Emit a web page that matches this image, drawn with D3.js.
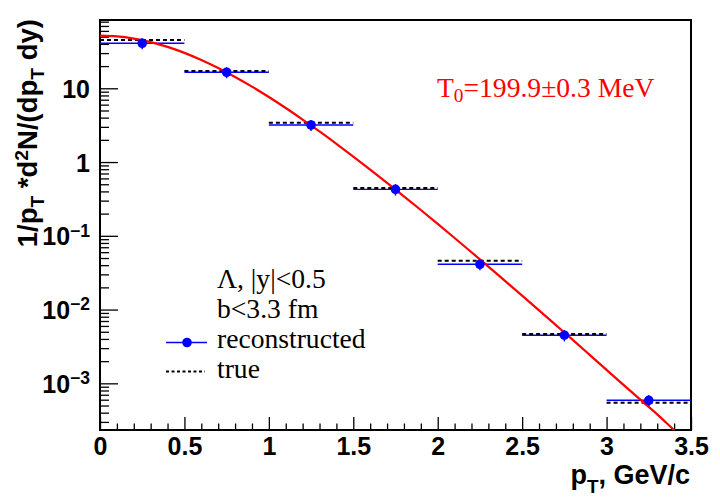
<!DOCTYPE html>
<html>
<head>
<meta charset="utf-8">
<script src="https://cdn.jsdelivr.net/npm/d3@7"></script>
<style>
  html, body { margin: 0; padding: 0; background: #fff; }
  svg { display: block; }
</style>
</head>
<body>
<svg id="chart" width="720" height="500"></svg>
<script>
// ---------------- data ----------------
const binEdges   = [0, 0.5, 1, 1.5, 2, 2.5, 3, 3.5];
const binCenters = [0.25, 0.75, 1.25, 1.75, 2.25, 2.75, 3.25];
const recoValues = [40.8, 16.5, 3.18, 0.426, 0.0411, 0.00449, 0.000589];
const recoErrors = [7.0, 2.8, 0.55, 0.075, 0.007, 0.0008, 0.0001];
const trueValues = [45.2, 17.2, 3.42, 0.444, 0.0458, 0.00468, 0.000546];
const trueErrors = [0.5, 0.2, 0.04, 0.005, 0.0005, 0.00006, 0.00006];
const fitPt  = [0, 0.1, 0.2, 0.3, 0.4, 0.5, 0.6, 0.7, 0.8, 0.9, 1.0, 1.1, 1.2, 1.3, 1.4, 1.5, 1.6, 1.7,
                1.8, 1.9, 2.0, 2.1, 2.2, 2.3, 2.4, 2.5, 2.6, 2.7, 2.8, 2.9, 3.0, 3.1, 3.2, 3.3, 3.4, 3.5];
const fitVal = [51.6, 50.5, 47.2, 42.3, 36.4, 30.2, 24.2, 18.8, 14.25, 10.52, 7.61, 5.40, 3.77, 2.60,
                1.767, 1.189, 0.792, 0.5235, 0.3434, 0.2237, 0.1449, 0.0934, 0.0599, 0.0383, 0.0243,
                0.01545, 0.00977, 0.00616, 0.00388, 0.00243, 0.00152, 0.000952, 0.000600, 0.000380,
                0.000232, 0.000143];
const xTickValues = [0, 0.5, 1, 1.5, 2, 2.5, 3, 3.5];
const xTickLabels = ["0", "0.5", "1", "1.5", "2", "2.5", "3", "3.5"];
const yTickValues = [1e-3, 1e-2, 1e-1, 1, 10];
const yTickExps   = [-3, -2, -1, 0, 1];
const xDomain = [0, 3.5];
const yDomain = [2.33e-4, 84.3];
const legendLabels = ["\u039B, |y|<0.5", "b<3.3 fm", "reconstructed", "true"];
const fitLabel = { main: "T", sub: "0", rest: "=199.9\u00B10.3 MeV" };

// ---------------- layout ----------------
const L = 100, R = 691, T = 20, B = 430;
const svg = d3.select("#chart");
svg.append("rect").attr("width", 720).attr("height", 500).attr("fill", "#fff");

const x = d3.scaleLinear().domain(xDomain).range([L, R]);
const y = d3.scaleLog().domain(yDomain).range([B, T]);

const BOLD = "'Liberation Sans', Arial, Helvetica, sans-serif";
const SERIF = "'Liberation Serif', 'Times New Roman', serif";

svg.append("defs").append("clipPath").attr("id", "clip")
  .append("rect").attr("x", L).attr("y", T).attr("width", R - L).attr("height", B - T);

// ---------------- axes ----------------
const xMinor = d3.range(0, 36).map(i => i / 10).filter(v => !xTickValues.some(t => Math.abs(t - v) < 1e-9));
const gxMinor = svg.append("g").attr("transform", `translate(0,${B})`)
  .call(d3.axisBottom(x).tickValues(xMinor).tickSize(-6.5).tickFormat(""));
const gx = svg.append("g").attr("transform", `translate(0,${B})`)
  .call(d3.axisBottom(x).tickValues(xTickValues).tickSize(-13).tickPadding(7)
        .tickFormat((d, i) => xTickLabels[i]));
[gxMinor, gx].forEach(g => {
  g.select(".domain").remove();
  g.selectAll(".tick line").attr("stroke", "#000").attr("stroke-width", 1.3);
});
gx.selectAll("text").attr("font-family", BOLD).attr("font-weight", "bold")
  .attr("font-size", 25).attr("fill", "#000");

const yMinor = [];
for (let e = -4; e <= 1; e++) for (let m = 2; m <= 9; m++) {
  const v = m * Math.pow(10, e);
  if (v >= yDomain[0] && v <= yDomain[1]) yMinor.push(v);
}
const gyMinor = svg.append("g").attr("transform", `translate(${L},0)`)
  .call(d3.axisLeft(y).tickValues(yMinor).tickSize(-9).tickFormat(""));
const gy = svg.append("g").attr("transform", `translate(${L},0)`)
  .call(d3.axisLeft(y).tickValues(yTickValues).tickSize(-18).tickPadding(10).tickFormat(""));
[gyMinor, gy].forEach(g => {
  g.select(".domain").remove();
  g.selectAll(".tick line").attr("stroke", "#000").attr("stroke-width", 1.3);
});
gy.selectAll(".tick text").each(function(d, i) {
  const t = d3.select(this).attr("font-family", BOLD).attr("font-weight", "bold")
    .attr("font-size", 25).attr("fill", "#000").attr("dy", "0.36em");
  const e = yTickExps[i];
  if (e === 0) t.append("tspan").text("1");
  else if (e === 1) t.append("tspan").text("10");
  else {
    t.append("tspan").text("10");
    t.append("tspan").attr("dy", "-0.5em").attr("font-size", "70%").text("\u2212" + Math.abs(e));
  }
});

// frame
svg.append("rect").attr("x", L).attr("y", T).attr("width", R - L).attr("height", B - T)
  .attr("fill", "none").attr("stroke", "#000").attr("stroke-width", 2);

// ---------------- data marks ----------------
const plot = svg.append("g").attr("clip-path", "url(#clip)");
const bins = binCenters.map((c, i) => ({
  x0: binEdges[i], x1: binEdges[i + 1], c,
  reco: recoValues[i], recoErr: recoErrors[i],
  tru: trueValues[i], truErr: trueErrors[i]
}));

plot.selectAll(".recoLine").data(bins).join("line")
  .attr("x1", d => x(d.x0)).attr("x2", d => x(d.x1))
  .attr("y1", d => y(d.reco)).attr("y2", d => y(d.reco))
  .attr("stroke", "#0000ff").attr("stroke-width", 1.4);
plot.selectAll(".recoErr").data(bins).join("line")
  .attr("x1", d => x(d.c)).attr("x2", d => x(d.c))
  .attr("y1", d => y(d.reco + d.recoErr)).attr("y2", d => y(d.reco - d.recoErr))
  .attr("stroke", "#0000ff").attr("stroke-width", 1.4);

plot.selectAll(".trueLine").data(bins).join("line")
  .attr("x1", d => x(d.x0)).attr("x2", d => x(d.x1))
  .attr("y1", d => y(d.tru)).attr("y2", d => y(d.tru))
  .attr("stroke", "#000").attr("stroke-width", 2).attr("stroke-dasharray", "4,3");
plot.selectAll(".trueErr").data(bins).join("line")
  .attr("x1", d => x(d.c)).attr("x2", d => x(d.c))
  .attr("y1", d => y(d.tru + d.truErr)).attr("y2", d => y(d.tru - d.truErr))
  .attr("stroke", "#000").attr("stroke-width", 1.4);

const fitData = fitPt.map((p, i) => [p, fitVal[i]]);
plot.append("path").datum(fitData)
  .attr("d", d3.line().x(d => x(d[0])).y(d => y(d[1])).curve(d3.curveMonotoneX))
  .attr("fill", "none").attr("stroke", "#ff0000").attr("stroke-width", 2.2);

plot.selectAll(".recoDot").data(bins).join("circle")
  .attr("cx", d => x(d.c)).attr("cy", d => y(d.reco)).attr("r", 4.8)
  .attr("fill", "#0000ff");

// ---------------- texts ----------------
const fitText = svg.append("text").attr("x", 437).attr("y", 97)
  .attr("font-family", SERIF).attr("font-size", 27.6).attr("fill", "#ff0000");
fitText.append("tspan").text(fitLabel.main);
fitText.append("tspan").attr("dy", "0.25em").attr("font-size", "70%").text(fitLabel.sub);
fitText.append("tspan").attr("dy", "-0.175em").text(fitLabel.rest);

const legBase = [288, 318, 348, 378];
legendLabels.forEach((s, i) => {
  svg.append("text").attr("x", 217).attr("y", legBase[i])
    .attr("font-family", SERIF).attr("font-size", 27.6).attr("fill", "#000").text(s);
});
svg.append("line").attr("x1", 166).attr("x2", 207).attr("y1", 342.5).attr("y2", 342.5)
  .attr("stroke", "#0000ff").attr("stroke-width", 1.4);
svg.append("circle").attr("cx", 187).attr("cy", 342.5).attr("r", 4.8).attr("fill", "#0000ff");
svg.append("line").attr("x1", 166).attr("x2", 205).attr("y1", 371.5).attr("y2", 371.5)
  .attr("stroke", "#000").attr("stroke-width", 2).attr("stroke-dasharray", "3,2.5");

// axis titles
const xt = svg.append("text").attr("x", 690).attr("y", 484).attr("text-anchor", "end")
  .attr("font-family", BOLD).attr("font-weight", "bold").attr("font-size", 27).attr("fill", "#000");
xt.append("tspan").text("p");
xt.append("tspan").attr("dy", "0.45em").attr("font-size", "70%").text("T");
xt.append("tspan").attr("dy", "-0.315em").text(", GeV/c");

const yt = svg.append("text").attr("transform", "translate(37,19) rotate(-90)")
  .attr("text-anchor", "end")
  .attr("font-family", BOLD).attr("font-weight", "bold").attr("font-size", 27.5).attr("fill", "#000");
yt.append("tspan").text("1/p");
yt.append("tspan").attr("dy", "0.35em").attr("font-size", "70%").text("T");
yt.append("tspan").attr("dy", "-0.245em").text(" *d");
yt.append("tspan").attr("dy", "-0.45em").attr("font-size", "70%").text("2");
yt.append("tspan").attr("dy", "0.315em").text("N/(dp");
yt.append("tspan").attr("dy", "0.35em").attr("font-size", "70%").text("T");
yt.append("tspan").attr("dy", "-0.245em").text(" dy)");
</script>
</body>
</html>
